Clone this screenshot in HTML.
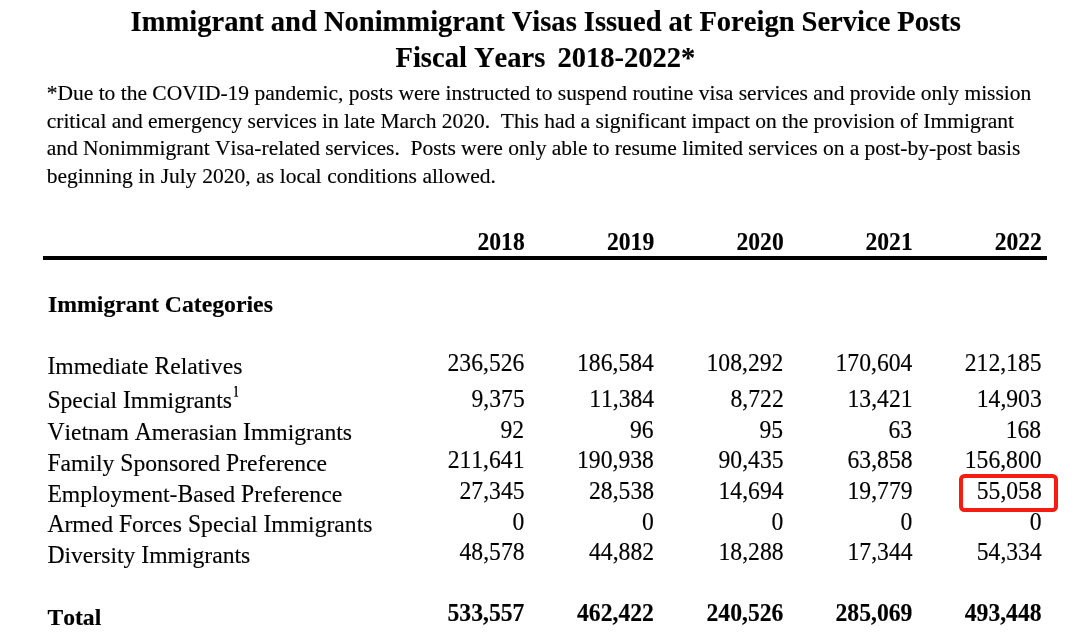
<!DOCTYPE html>
<html><head><meta charset="utf-8"><style>
html,body{margin:0;padding:0;background:#fff;}
body{width:1080px;height:643px;position:relative;overflow:hidden;font-family:"Liberation Serif",serif;color:#000;font-kerning:none;font-feature-settings:"kern" 0;}
.t{position:absolute;white-space:pre;line-height:normal;-webkit-text-stroke:0.15px currentColor;}
.t i{font-style:normal;color:transparent;}
.t b{font-weight:inherit;color:#000;}
.rule{position:absolute;left:43.00px;top:255.70px;width:1004.00px;height:4.80px;background:#000;}
.box{position:absolute;left:959.20px;top:473.80px;width:98.50px;height:37.90px;border:4.70px solid #f71c12;border-radius:5.50px;box-sizing:border-box;}
#w{position:absolute;left:0;top:0;width:1080px;height:643px;filter:blur(0.35px);}
</style></head><body><div id="w">
<div class="t" style="top:6.06px;font-size:28.55px;font-weight:bold;left:130.60px;word-spacing:-0.10px;">Immigrant and Nonimmigrant Visas Issued at Foreign Service Posts</div>
<div class="t" style="top:42.06px;font-size:28.55px;font-weight:bold;left:395.50px;">Fiscal Years</div>
<div class="t" style="top:42.06px;font-size:28.55px;font-weight:bold;right:384.67px;">2018-2022*</div>
<div class="t" style="top:80.74px;font-size:21.50px;left:46.70px;word-spacing:0.000px;">*Due to the COVID-19 pandemic, posts were instructed to suspend routine visa services and provide only mission</div>
<div class="t" style="top:108.74px;font-size:21.50px;left:46.70px;word-spacing:-0.090px;">critical and emergency services in late March 2020.&nbsp; This had a significant impact on the provision of Immigrant</div>
<div class="t" style="top:136.44px;font-size:21.50px;left:46.70px;word-spacing:-0.090px;">and Nonimmigrant Visa-related services.&nbsp; Posts were only able to resume limited services on a post-by-post basis</div>
<div class="t" style="top:163.84px;font-size:21.50px;left:46.70px;word-spacing:0.280px;">beginning in July 2020, as local conditions allowed.</div>
<div class="t" style="top:228.87px;font-size:23.60px;font-weight:bold;right:555.31px;transform:scaleY(1.08);transform-origin:50% 0.891em;">2018</div>
<div class="t" style="top:228.87px;font-size:23.60px;font-weight:bold;right:425.81px;transform:scaleY(1.08);transform-origin:50% 0.891em;">2019</div>
<div class="t" style="top:228.87px;font-size:23.60px;font-weight:bold;right:296.31px;transform:scaleY(1.08);transform-origin:50% 0.891em;">2020</div>
<div class="t" style="top:228.87px;font-size:23.60px;font-weight:bold;right:167.31px;transform:scaleY(1.08);transform-origin:50% 0.891em;">2021</div>
<div class="t" style="top:228.87px;font-size:23.60px;font-weight:bold;right:38.11px;transform:scaleY(1.08);transform-origin:50% 0.891em;">2022</div>
<div class="t" style="top:291.04px;font-size:23.75px;font-weight:bold;left:48.00px;">Immigrant Categories</div>
<div class="t" style="top:352.53px;font-size:23.65px;left:47.40px;"><i>I</i>mmediate <i>R</i>elatives</div>
<div class="t" style="top:352.53px;font-size:23.65px;left:47.40px;color:transparent;transform:scaleY(1.060);transform-origin:0 0.891em;"><b>I</b>mmediate <b>R</b>elatives</div>
<div class="t" style="top:349.83px;font-size:23.65px;right:555.62px;transform:scaleY(1.08);transform-origin:50% 0.891em;">236,526</div>
<div class="t" style="top:349.83px;font-size:23.65px;right:426.12px;transform:scaleY(1.08);transform-origin:50% 0.891em;">186,584</div>
<div class="t" style="top:349.83px;font-size:23.65px;right:296.62px;transform:scaleY(1.08);transform-origin:50% 0.891em;">108,292</div>
<div class="t" style="top:349.83px;font-size:23.65px;right:167.62px;transform:scaleY(1.08);transform-origin:50% 0.891em;">170,604</div>
<div class="t" style="top:349.83px;font-size:23.65px;right:38.42px;transform:scaleY(1.08);transform-origin:50% 0.891em;">212,185</div>
<div class="t" style="top:387.33px;font-size:23.65px;left:47.40px;"><i>S</i>pecial <i>I</i>mmigrants</div>
<div class="t" style="top:387.33px;font-size:23.65px;left:47.40px;color:transparent;transform:scaleY(1.060);transform-origin:0 0.891em;"><b>S</b>pecial <b>I</b>mmigrants</div>
<div class="t" style="top:386.13px;font-size:23.65px;right:555.28px;transform:scaleY(1.08);transform-origin:50% 0.891em;">9,375</div>
<div class="t" style="top:386.13px;font-size:23.65px;right:425.83px;transform:scaleY(1.08);transform-origin:50% 0.891em;">11,384</div>
<div class="t" style="top:386.13px;font-size:23.65px;right:296.28px;transform:scaleY(1.08);transform-origin:50% 0.891em;">8,722</div>
<div class="t" style="top:386.13px;font-size:23.65px;right:167.45px;transform:scaleY(1.08);transform-origin:50% 0.891em;">13,421</div>
<div class="t" style="top:386.13px;font-size:23.65px;right:38.25px;transform:scaleY(1.08);transform-origin:50% 0.891em;">14,903</div>
<div class="t" style="top:419.43px;font-size:23.65px;left:47.40px;"><i>V</i>ietnam <i>A</i>merasian <i>I</i>mmigrants</div>
<div class="t" style="top:419.43px;font-size:23.65px;left:47.40px;color:transparent;transform:scaleY(1.060);transform-origin:0 0.891em;"><b>V</b>ietnam <b>A</b>merasian <b>I</b>mmigrants</div>
<div class="t" style="top:416.73px;font-size:23.65px;right:555.84px;transform:scaleY(1.08);transform-origin:50% 0.891em;">92</div>
<div class="t" style="top:416.73px;font-size:23.65px;right:426.34px;transform:scaleY(1.08);transform-origin:50% 0.891em;">96</div>
<div class="t" style="top:416.73px;font-size:23.65px;right:296.84px;transform:scaleY(1.08);transform-origin:50% 0.891em;">95</div>
<div class="t" style="top:416.73px;font-size:23.65px;right:167.84px;transform:scaleY(1.08);transform-origin:50% 0.891em;">63</div>
<div class="t" style="top:416.73px;font-size:23.65px;right:38.82px;transform:scaleY(1.08);transform-origin:50% 0.891em;">168</div>
<div class="t" style="top:449.73px;font-size:23.65px;left:47.40px;"><i>F</i>amily <i>S</i>ponsored <i>P</i>reference</div>
<div class="t" style="top:449.73px;font-size:23.65px;left:47.40px;color:transparent;transform:scaleY(1.060);transform-origin:0 0.891em;"><b>F</b>amily <b>S</b>ponsored <b>P</b>reference</div>
<div class="t" style="top:446.63px;font-size:23.65px;right:555.50px;transform:scaleY(1.08);transform-origin:50% 0.891em;">211,641</div>
<div class="t" style="top:446.63px;font-size:23.65px;right:426.12px;transform:scaleY(1.08);transform-origin:50% 0.891em;">190,938</div>
<div class="t" style="top:446.63px;font-size:23.65px;right:296.45px;transform:scaleY(1.08);transform-origin:50% 0.891em;">90,435</div>
<div class="t" style="top:446.63px;font-size:23.65px;right:167.45px;transform:scaleY(1.08);transform-origin:50% 0.891em;">63,858</div>
<div class="t" style="top:446.63px;font-size:23.65px;right:38.42px;transform:scaleY(1.08);transform-origin:50% 0.891em;">156,800</div>
<div class="t" style="top:480.73px;font-size:23.65px;left:47.40px;"><i>E</i>mployment-<i>B</i>ased <i>P</i>reference</div>
<div class="t" style="top:480.73px;font-size:23.65px;left:47.40px;color:transparent;transform:scaleY(1.060);transform-origin:0 0.891em;"><b>E</b>mployment-<b>B</b>ased <b>P</b>reference</div>
<div class="t" style="top:477.83px;font-size:23.65px;right:555.45px;transform:scaleY(1.08);transform-origin:50% 0.891em;">27,345</div>
<div class="t" style="top:477.83px;font-size:23.65px;right:425.95px;transform:scaleY(1.08);transform-origin:50% 0.891em;">28,538</div>
<div class="t" style="top:477.83px;font-size:23.65px;right:296.45px;transform:scaleY(1.08);transform-origin:50% 0.891em;">14,694</div>
<div class="t" style="top:477.83px;font-size:23.65px;right:167.45px;transform:scaleY(1.08);transform-origin:50% 0.891em;">19,779</div>
<div class="t" style="top:477.83px;font-size:23.65px;right:38.25px;transform:scaleY(1.08);transform-origin:50% 0.891em;">55,058</div>
<div class="t" style="top:510.93px;font-size:23.65px;left:47.40px;"><i>A</i>rmed <i>F</i>orces <i>S</i>pecial <i>I</i>mmigrants</div>
<div class="t" style="top:510.93px;font-size:23.65px;left:47.40px;color:transparent;transform:scaleY(1.060);transform-origin:0 0.891em;"><b>A</b>rmed <b>F</b>orces <b>S</b>pecial <b>I</b>mmigrants</div>
<div class="t" style="top:508.73px;font-size:23.65px;right:555.67px;transform:scaleY(1.08);transform-origin:50% 0.891em;">0</div>
<div class="t" style="top:508.73px;font-size:23.65px;right:426.17px;transform:scaleY(1.08);transform-origin:50% 0.891em;">0</div>
<div class="t" style="top:508.73px;font-size:23.65px;right:296.67px;transform:scaleY(1.08);transform-origin:50% 0.891em;">0</div>
<div class="t" style="top:508.73px;font-size:23.65px;right:167.67px;transform:scaleY(1.08);transform-origin:50% 0.891em;">0</div>
<div class="t" style="top:508.73px;font-size:23.65px;right:38.47px;transform:scaleY(1.08);transform-origin:50% 0.891em;">0</div>
<div class="t" style="top:541.93px;font-size:23.65px;left:47.40px;"><i>D</i>iversity <i>I</i>mmigrants</div>
<div class="t" style="top:541.93px;font-size:23.65px;left:47.40px;color:transparent;transform:scaleY(1.060);transform-origin:0 0.891em;"><b>D</b>iversity <b>I</b>mmigrants</div>
<div class="t" style="top:539.43px;font-size:23.65px;right:555.45px;transform:scaleY(1.08);transform-origin:50% 0.891em;">48,578</div>
<div class="t" style="top:539.43px;font-size:23.65px;right:425.95px;transform:scaleY(1.08);transform-origin:50% 0.891em;">44,882</div>
<div class="t" style="top:539.43px;font-size:23.65px;right:296.45px;transform:scaleY(1.08);transform-origin:50% 0.891em;">18,288</div>
<div class="t" style="top:539.43px;font-size:23.65px;right:167.45px;transform:scaleY(1.08);transform-origin:50% 0.891em;">17,344</div>
<div class="t" style="top:539.43px;font-size:23.65px;right:38.25px;transform:scaleY(1.08);transform-origin:50% 0.891em;">54,334</div>
<svg style="position:absolute;left:230px;top:382px;" width="14" height="18" viewBox="230 382 14 18"><path d="M235.3 386.1 L236.9 386.1 L236.9 395.8 L238.2 395.9 L238.2 396.7 L234.3 396.7 L234.3 395.9 L235.4 395.8 L235.4 387.6 L234.5 387.9 L234.4 387.3 Z" fill="#111"/></svg>
<div class="t" style="top:603.83px;font-size:23.65px;font-weight:bold;left:47.40px;">Total</div>
<div class="t" style="top:599.73px;font-size:23.65px;font-weight:bold;right:555.62px;transform:scaleY(1.08);transform-origin:50% 0.891em;">533,557</div>
<div class="t" style="top:599.73px;font-size:23.65px;font-weight:bold;right:426.12px;transform:scaleY(1.08);transform-origin:50% 0.891em;">462,422</div>
<div class="t" style="top:599.73px;font-size:23.65px;font-weight:bold;right:296.62px;transform:scaleY(1.08);transform-origin:50% 0.891em;">240,526</div>
<div class="t" style="top:599.73px;font-size:23.65px;font-weight:bold;right:167.62px;transform:scaleY(1.08);transform-origin:50% 0.891em;">285,069</div>
<div class="t" style="top:599.73px;font-size:23.65px;font-weight:bold;right:38.42px;transform:scaleY(1.08);transform-origin:50% 0.891em;">493,448</div>
<div class="rule"></div>
<div class="box"></div>
</div></body></html>
